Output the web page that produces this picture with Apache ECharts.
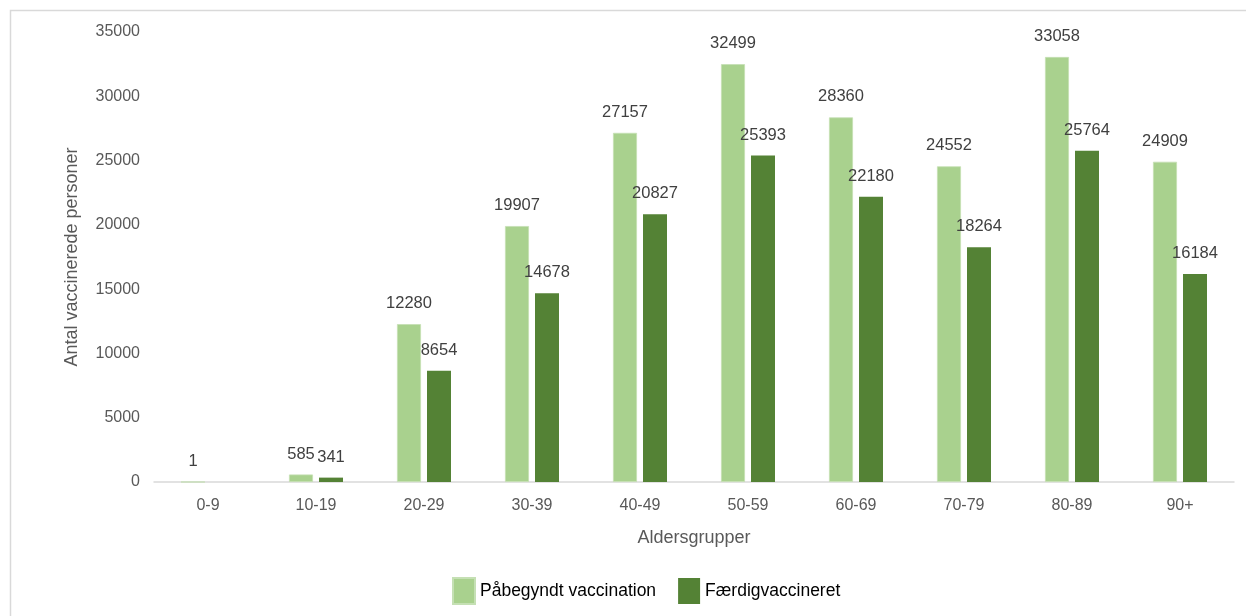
<!DOCTYPE html>
<html><head><meta charset="utf-8">
<script src="https://cdn.jsdelivr.net/npm/echarts@6/dist/echarts.min.js"></script>
<style>html,body{margin:0;padding:0;background:#fff}#c{width:1246px;height:616px}</style>
</head><body><div id="c"></div>
<script>
const categories = ['0-9','10-19','20-29','30-39','40-49','50-59','60-69','70-79','80-89','90+'];
const paabegyndt = [1,585,12280,19907,27157,32499,28360,24552,33058,24909];
const faerdig = [null,341,8654,14678,20827,25393,22180,18264,25764,16184];
const yTicks = [0,5000,10000,15000,20000,25000,30000,35000];

const FONT = 'Liberation Sans';
const chart = echarts.init(document.getElementById('c'));
chart.setOption({
  animation:false,
  textStyle:{fontFamily:FONT},
  graphic:[{type:'rect',shape:{x:10.5,y:10.5,width:1400,height:800},style:{fill:'none',stroke:'#D9D9D9',lineWidth:1.5},z:-1}],
  grid:{left:154,right:12,top:32,bottom:134},
  legend:{
    data:['Påbegyndt vaccination','Færdigvaccineret'],
    left:447, top:572, itemWidth:22, itemHeight:26, itemGap:22, icon:'rect',
    textStyle:{fontFamily:FONT,fontSize:17.5,color:'#000'}
  },
  xAxis:{
    type:'category', data:categories,
    name:'Aldersgrupper', nameLocation:'middle', nameGap:47,
    nameTextStyle:{color:'#595959',fontSize:18,fontFamily:FONT},
    axisLine:{lineStyle:{color:'#D9D9D9',width:1.5}},
    axisTick:{show:false},
    axisLabel:{color:'#595959',fontSize:16,margin:16}
  },
  yAxis:{
    type:'value', min:0, max:35000, interval:5000,
    name:'Antal vaccinerede personer', nameLocation:'middle', nameGap:73,
    nameTextStyle:{color:'#595959',fontSize:18,fontFamily:FONT},
    axisLine:{show:false}, axisTick:{show:false}, splitLine:{show:false},
    axisLabel:{color:'#595959',fontSize:16,margin:14,
      formatter:function(v){return yTicks.indexOf(v)>=0?String(v):'';}}
  },
  series:[
    {name:'Påbegyndt vaccination',type:'bar',data:paabegyndt,barWidth:24,barGap:'25%',
     itemStyle:{color:'#A9D18E',borderColor:'#C5E0B4',borderWidth:0.8},
     label:{show:true,position:'top',color:'#404040',fontSize:16.5,distance:12}},
    {name:'Færdigvaccineret',type:'bar',data:faerdig,barWidth:24,
     itemStyle:{color:'#548235'},
     label:{show:true,position:'top',color:'#404040',fontSize:16.5,distance:12}}
  ]
});
</script></body></html>
